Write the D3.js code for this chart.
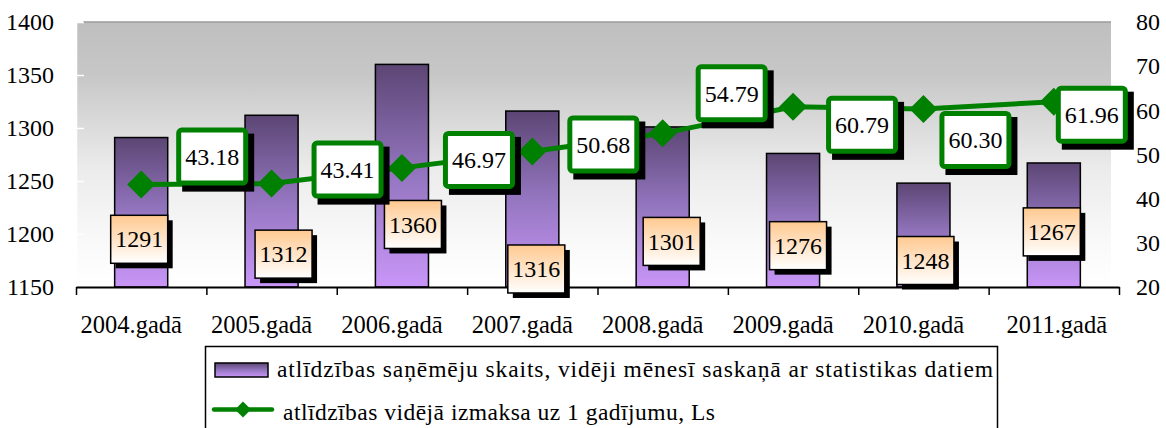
<!DOCTYPE html>
<html>
<head>
<meta charset="utf-8">
<script src="https://cdn.jsdelivr.net/npm/d3@7"></script>
<style>
  body { margin: 0; background: #fff; }
  text { font-family: 'Liberation Serif', 'Times New Roman', serif; fill: #000; }
</style>
</head>
<body>
<script>
var years = ['2004.gadā', '2005.gadā', '2006.gadā', '2007.gadā', '2008.gadā', '2009.gadā', '2010.gadā', '2011.gadā'];
var recipients = [1291, 1312, 1360, 1316, 1301, 1276, 1248, 1267];
var avgPayout = [43.18, 43.41, 46.97, 50.68, 54.79, 60.79, 60.30, 61.96];
var leftTicks = [1150, 1200, 1250, 1300, 1350, 1400];
var rightTicks = [20, 30, 40, 50, 60, 70, 80];
var legendNames = [
  'atlīdzības  saņēmēju skaits, vidēji mēnesī saskaņā ar statistikas datiem',
  'atlīdzības vidējā izmaksa uz 1 gadījumu, Ls'
];

// hand placed label boxes (as in the original), px offsets / left-axis units
var barTagDx = [-2, 12, 11, 4, 9, 5, 2, -2];
var barTagAt = [1195, 1181, 1209, 1167, 1193, 1189, 1175, 1202];
var lineTagDx = [71, 76, 77, 71, 69, 69, 52, 38];
var lineTagDy = [-28, -14, -8, -7, -40, 18, 31, 13];
var xLabelShift = [-10, -10, -10, -10, -10, -10, -10, 3];

var W = 1166, H = 428;
var pLeft = 76, pRight = 1119, pTop = 22, pBottom = 287;

var svg = d3.select('body').append('svg').attr('width', W).attr('height', H);
var defs = svg.append('defs');

var bg = defs.append('linearGradient').attr('id', 'bg').attr('x1', 0).attr('y1', 0).attr('x2', 0).attr('y2', 1);
[[0, '#bfbfbf'], [0.2, '#c7c7c7'], [0.55, '#ebebeb'], [0.85, '#fafafa'], [1, '#ffffff']].forEach(function (s) {
  bg.append('stop').attr('offset', s[0]).attr('stop-color', s[1]);
});
var bar = defs.append('linearGradient').attr('id', 'bar').attr('x1', 0).attr('y1', 0).attr('x2', 0).attr('y2', 1);
[[0, '#5c4674'], [0.5, '#9476c0'], [1, '#c996f8']].forEach(function (s) {
  bar.append('stop').attr('offset', s[0]).attr('stop-color', s[1]);
});
var peach = defs.append('linearGradient').attr('id', 'peach').attr('x1', 0).attr('y1', 0).attr('x2', 0).attr('y2', 1);
[[0, '#ffc990'], [1, '#ffffff']].forEach(function (s) {
  peach.append('stop').attr('offset', s[0]).attr('stop-color', s[1]);
});

var x = d3.scaleBand().domain(years).range([pLeft, pRight]).paddingInner(0.593).paddingOuter(0.2965);
var yL = d3.scaleLinear().domain([1150, 1400]).range([pBottom, pTop]);
var yR = d3.scaleLinear().domain([20, 80]).range([pBottom, pTop]);
var cx = function (i) { return x(years[i]) + x.bandwidth() / 2; };

// plot background
svg.append('rect')
  .attr('x', pLeft).attr('y', pTop)
  .attr('width', pRight - pLeft - 8).attr('height', pBottom - pTop)
  .attr('fill', 'url(#bg)');
svg.append('line')
  .attr('x1', pLeft + 7).attr('x2', pRight - 8).attr('y1', pTop).attr('y2', pTop)
  .attr('stroke', '#9a9a9a').attr('stroke-width', 1.5);

// left axis
var gl = svg.append('g').attr('transform', 'translate(' + pLeft + ',0)')
  .call(d3.axisLeft(yL).tickValues(leftTicks).tickFormat(d3.format('d'))
    .tickSizeInner(-8).tickSizeOuter(0).tickPadding(22));
gl.select('.domain').attr('stroke', '#fff').attr('stroke-width', 1.5);
gl.selectAll('.tick line').attr('stroke', '#fff').attr('stroke-width', 1.5);
gl.selectAll('.tick text').attr('font-size', 24).attr('font-family', 'Liberation Serif');

// right axis
var gr = svg.append('g').attr('transform', 'translate(' + pRight + ',0)')
  .call(d3.axisRight(yR).tickValues(rightTicks).tickFormat(d3.format('d'))
    .tickSizeInner(-8).tickSizeOuter(0).tickPadding(17));
gr.select('.domain').attr('stroke', '#fff').attr('stroke-width', 1.5);
gr.selectAll('.tick line').attr('stroke', '#fff').attr('stroke-width', 1.5);
gr.selectAll('.tick text').attr('font-size', 24).attr('font-family', 'Liberation Serif');

// bars
svg.selectAll('rect.bar')
  .data(recipients)
  .enter()
  .append('rect')
  .attr('class', 'bar')
  .attr('x', function (d, i) { return x(years[i]); })
  .attr('y', function (d) { return yL(d); })
  .attr('width', x.bandwidth())
  .attr('height', function (d) { return yL(1150) - yL(d); })
  .attr('fill', 'url(#bar)')
  .attr('stroke', '#000')
  .attr('stroke-width', 1.5);

// bottom axis (category boundaries)
var gb = svg.append('g').attr('transform', 'translate(0,' + pBottom + ')')
  .call(d3.axisBottom(d3.scaleLinear().domain([0, years.length]).range([pLeft, pRight]))
    .ticks(years.length).tickSizeInner(8).tickSizeOuter(0).tickFormat(''));
gb.select('.domain').attr('stroke', '#000').attr('stroke-width', 2);
gb.selectAll('.tick line').attr('stroke', '#000').attr('stroke-width', 1.5);

svg.selectAll('text.xlab')
  .data(years)
  .enter()
  .append('text')
  .attr('class', 'xlab')
  .attr('x', function (d, i) { return cx(i) + xLabelShift[i]; })
  .attr('y', 333)
  .attr('text-anchor', 'middle')
  .attr('font-size', 24.5)
  .text(function (d) { return d; });

// bar value tags
var bw = 57, bh = 48;
var tags = svg.selectAll('g.btag')
  .data(recipients)
  .enter()
  .append('g')
  .attr('class', 'btag')
  .attr('transform', function (d, i) {
    return 'translate(' + (cx(i) + barTagDx[i]) + ',' + yL(barTagAt[i]) + ')';
  });
tags.append('rect')
  .attr('x', -bw / 2 + 5).attr('y', -bh / 2 + 5).attr('width', bw).attr('height', bh)
  .attr('fill', '#000');
tags.append('rect')
  .attr('x', -bw / 2).attr('y', -bh / 2).attr('width', bw).attr('height', bh)
  .attr('fill', 'url(#peach)').attr('stroke', '#000').attr('stroke-width', 1.5);
tags.append('text')
  .attr('text-anchor', 'middle').attr('dy', '0.34em')
  .attr('font-size', 24)
  .text(function (d) { return d; });

// line series
var line = d3.line()
  .x(function (d, i) { return cx(i); })
  .y(function (d) { return yR(d); });
svg.append('path')
  .datum(avgPayout)
  .attr('d', line)
  .attr('fill', 'none')
  .attr('stroke', '#008000')
  .attr('stroke-width', 5);
svg.selectAll('path.mark')
  .data(avgPayout)
  .enter()
  .append('path')
  .attr('class', 'mark')
  .attr('d', 'M0,-14L14,0L0,14L-14,0Z')
  .attr('transform', function (d, i) { return 'translate(' + cx(i) + ',' + yR(d) + ')'; })
  .attr('fill', '#008000');

// line value tags
var lw = 67, lh = 53;
var ltags = svg.selectAll('g.ltag')
  .data(avgPayout)
  .enter()
  .append('g')
  .attr('class', 'ltag')
  .attr('transform', function (d, i) {
    return 'translate(' + (cx(i) + lineTagDx[i]) + ',' + (yR(d) + lineTagDy[i]) + ')';
  });
ltags.append('rect')
  .attr('x', -lw / 2 - 2.5 + 6).attr('y', -lh / 2 - 2.5 + 6)
  .attr('width', lw + 5).attr('height', lh + 5)
  .attr('fill', '#000');
ltags.append('rect')
  .attr('x', -lw / 2).attr('y', -lh / 2).attr('width', lw).attr('height', lh)
  .attr('rx', 3)
  .attr('fill', '#fff').attr('stroke', '#008000').attr('stroke-width', 5);
ltags.append('text')
  .attr('text-anchor', 'middle').attr('dy', '0.34em')
  .attr('font-size', 24)
  .text(function (d) { return d.toFixed(2); });

// legend
var lg = svg.append('g');
lg.append('rect')
  .attr('x', 205.5).attr('y', 346.5).attr('width', 792).attr('height', 90)
  .attr('fill', '#fff').attr('stroke', '#000').attr('stroke-width', 1.5);
lg.append('rect')
  .attr('x', 215).attr('y', 363).attr('width', 53).attr('height', 14)
  .attr('fill', 'url(#bar)').attr('stroke', '#000').attr('stroke-width', 1.5);
lg.append('text')
  .attr('x', 277).attr('y', 377)
  .attr('font-size', 23.5)
  .attr('textLength', 716).attr('lengthAdjust', 'spacing')
  .text(legendNames[0]);
lg.append('line')
  .attr('x1', 214).attr('x2', 272).attr('y1', 409.5).attr('y2', 409.5)
  .attr('stroke', '#008000').attr('stroke-width', 4.5).attr('stroke-linecap', 'round');
lg.append('path')
  .attr('d', 'M0,-8L8,0L0,8L-8,0Z')
  .attr('transform', 'translate(243,409.5)')
  .attr('fill', '#008000');
lg.append('text')
  .attr('x', 283).attr('y', 420)
  .attr('font-size', 23.5)
  .attr('textLength', 432).attr('lengthAdjust', 'spacing')
  .text(legendNames[1]);
</script>
</body>
</html>
